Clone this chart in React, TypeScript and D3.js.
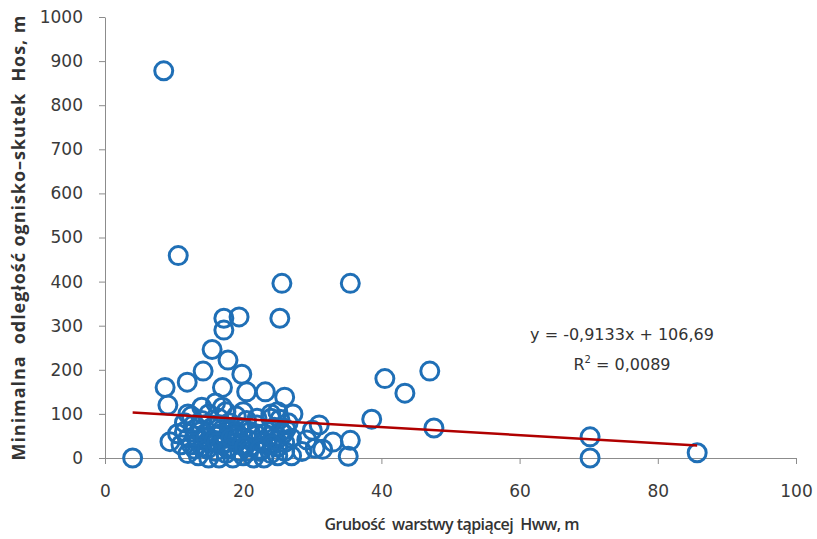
import { useEffect, useRef } from "react";
import * as d3 from 'd3';

// Grubość warstwy tąpiącej Hww [m]
const hww = [
    4, 8.5, 10.6, 8.7, 9.1, 9.4, 11.9, 14.2, 15.5, 17.2, 19.4, 17.2, 17.8, 17, 19.8, 20.5, 23.2, 26, 25.6, 25.3,
    35.5, 40.5, 43.4, 47, 38.6, 47.6, 70.2, 70.2, 85.7, 35.5, 35.2, 31, 27.2, 25.3, 30, 29.2, 30.4, 33, 31.5, 28.5,
    10.5, 11, 11.5, 12, 12, 12.5, 13, 13, 13.5, 13.5, 14, 14, 14.5, 15, 15, 15, 15.5, 16, 16, 16.5,
    16.5, 17, 17, 17, 17.5, 17.5, 18, 18, 18.5, 18.5, 19, 19, 19.5, 19.5, 20, 20, 20.5, 21, 21, 21.5,
    22, 22, 22.5, 23, 23, 23.5, 24, 24, 24.5, 24.5, 25, 25, 25.5, 26, 26, 26.5, 27, 27, 12, 14,
    16, 17.5, 20, 24, 25, 11.5, 16, 19, 22, 13, 21, 18,
    12.5, 13.8, 14.8, 15.8, 16.8, 17.8, 18.8, 19.8, 20.8, 21.8, 22.8, 23.8, 24.8, 25.8,
    12.8, 14.6, 16.2, 18.2, 20.2, 22.4, 24.2, 26.2
];

// Minimalna odległość ognisko-skutek Hos [m]
const hos = [
    0, 878, 459, 160, 120, 37, 172, 197, 246, 317, 320, 290, 222, 160, 190, 150, 150, 138, 396, 317,
    396, 180, 147, 197, 88, 68, 48, 0, 12, 40, 4, 75, 100, 88, 63, 41, 22, 36, 20, 15,
    55, 30, 80, 10, 45, 95, 20, 65, 5, 40, 85, 25, 55, 0, 35, 100, 70, 15, 50, 90,
    0, 30, 65, 115, 10, 45, 80, 25, 55, 0, 95, 35, 15, 70, 45, 5, 85, 25, 60, 0,
    40, 75, 15, 55, 0, 30, 90, 10, 45, 70, 25, 5, 60, 35, 15, 80, 45, 5, 100, 115,
    125, 105, 105, 100, 105, 60, 75, 60, 90, 50, 40, 65,
    30, 60, 20, 40, 55, 20, 50, 30, 15, 55, 35, 50, 40, 55,
    75, 45, 35, 45, 25, 20, 30, 65
];

const xTicks = [0, 20, 40, 60, 80, 100];
const yTicks = [0, 100, 200, 300, 400, 500, 600, 700, 800, 900, 1000];

// linia trendu (regresja liniowa)
const slope = -0.9133;
const intercept = 106.69;
const trendRange = [4, 85.7];

const eqLine1 = "y = -0,9133x + 106,69";
const eqLine2 = "0,0089";

const App = () => {
    const svgRef = useRef<SVGSVGElement | null>(null);

    useEffect(() => {
        if (!svgRef.current) return;

        const svg = d3.select(svgRef.current);
        const width = 817;
        const height = 539;
        const margin = { top: 17, right: 21, bottom: 81, left: 105 };
        const font = "'DejaVu Sans', sans-serif";
        const titleFont = "'Open Sans', 'DejaVu Sans', sans-serif";

        svg.selectAll('*').remove();

        const x = d3.scaleLinear()
            .domain([0, 100])
            .range([margin.left, width - margin.right]);

        const y = d3.scaleLinear()
            .domain([0, 1000])
            .range([height - margin.bottom, margin.top]);

        // Oś X
        const gx = svg.append('g')
            .attr('transform', `translate(0,${height - margin.bottom})`)
            .call(d3.axisBottom(x).tickValues(xTicks).tickFormat(d3.format('d')).tickSize(6).tickSizeOuter(0).tickPadding(21));
        gx.select('.domain').attr('stroke', '#8c8c8c');
        gx.selectAll('line').attr('stroke', '#8c8c8c');
        gx.selectAll('text').attr('font-family', font).attr('font-size', 17).attr('fill', '#3a3a3a');

        // Oś Y
        const gy = svg.append('g')
            .attr('transform', `translate(${margin.left},0)`)
            .call(d3.axisLeft(y).tickValues(yTicks).tickFormat(d3.format('d')).tickSize(6).tickSizeOuter(0).tickPadding(16));
        gy.select('.domain').attr('stroke', '#8c8c8c');
        gy.selectAll('line').attr('stroke', '#8c8c8c');
        gy.selectAll('text').attr('font-family', font).attr('font-size', 17).attr('fill', '#3a3a3a');

        // Punkty
        const points = hww.map((v, i) => ({ hww: v, hos: hos[i] }));
        svg.append('g')
            .selectAll('circle')
            .data(points)
            .join('circle')
            .attr('cx', d => x(d.hww))
            .attr('cy', d => y(d.hos))
            .attr('r', 9)
            .attr('fill', 'none')
            .attr('stroke', '#1f6fb6')
            .attr('stroke-width', 3);

        // Trend
        const line = d3.line<number>()
            .x(d => x(d))
            .y(d => y(slope * d + intercept));
        svg.append('path')
            .datum(trendRange)
            .attr('fill', 'none')
            .attr('stroke', '#b00000')
            .attr('stroke-width', 2.5)
            .attr('d', line);

        // Równanie
        svg.append('text')
            .attr('font-family', font)
            .attr('font-size', 16)
            .attr('fill', '#333')
            .attr('text-anchor', 'middle')
            .attr('x', 622)
            .attr('y', 340)
            .text(eqLine1);
        const r2 = svg.append('text')
            .attr('font-family', font)
            .attr('font-size', 16)
            .attr('fill', '#333')
            .attr('text-anchor', 'middle')
            .attr('x', 622)
            .attr('y', 370);
        r2.append('tspan').text('R');
        r2.append('tspan').attr('font-size', 10).attr('dy', -7).text('2');
        r2.append('tspan').attr('dy', 7).text(' = ' + eqLine2);

        // Tytuły osi
        svg.append('text')
            .attr('x', 452)
            .attr('y', 530)
            .attr('text-anchor', 'middle')
            .attr('font-family', titleFont)
            .attr('font-weight', 600)
            .attr('font-size', 16)
            .attr('fill', '#333')
            .attr('textLength', 255)
            .attr('xml:space', 'preserve')
            .text('Grubość  warstwy tąpiącej  Hww, m');

        svg.append('text')
            .attr('transform', 'translate(25,238) rotate(-90)')
            .attr('text-anchor', 'middle')
            .attr('font-family', titleFont)
            .attr('font-weight', 'bold')
            .attr('font-size', 18)
            .attr('fill', '#333')
            .attr('textLength', 445)
            .attr('xml:space', 'preserve')
            .text('Minimalna  odległość ognisko–skutek  Hos, m');
    }, []);

    return (
        <svg ref={svgRef} width={817} height={539}
            style={{ position: 'absolute', left: 0, top: 0, background: '#fff' }} />
    );
};

export default App;
